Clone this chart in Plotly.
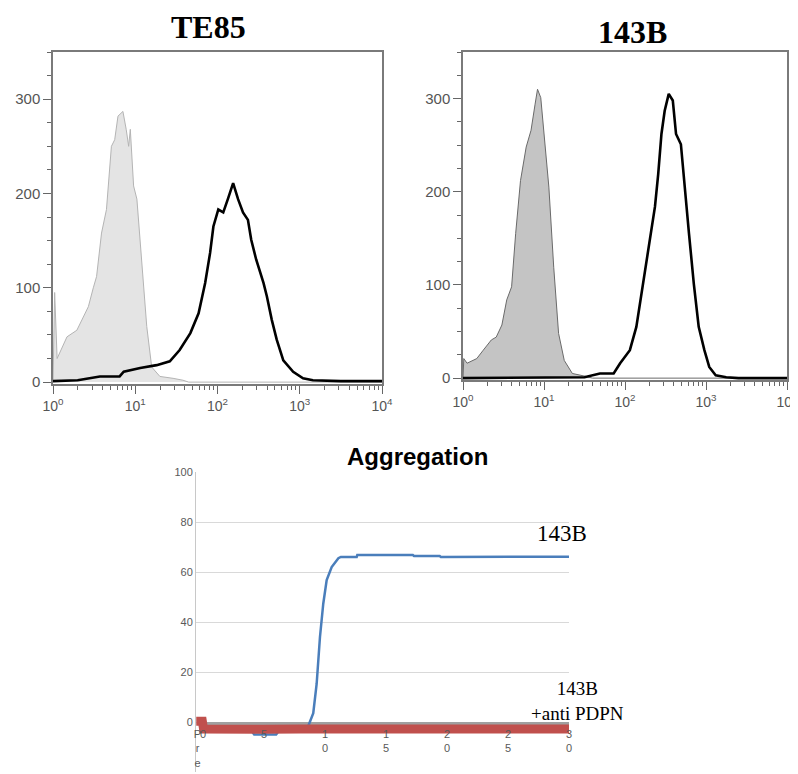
import plotly.graph_objects as go

# the page body adds an 8px offset; the figure is sized to reach the window edges
OFF = 8
W, H = 790, 766

# ---------------- data ----------------
# TE85 histogram (x as log10 fluorescence intensity, y counts)
te85_iso_log = [0.0, 0.02, 0.05, 0.17, 0.29, 0.37, 0.43, 0.49, 0.53, 0.59, 0.65, 0.71, 0.75,
                0.79, 0.85, 0.89, 0.92, 0.94, 0.98, 1.02, 1.08, 1.14, 1.20, 1.30, 1.46, 1.58, 1.65, 4.0]
te85_iso_cnt = [0, 95, 25, 48, 55, 69, 80, 100, 112, 158, 183, 250, 257,
                282, 287, 268, 250, 268, 208, 194, 123, 59, 16, 6, 4, 2, 0, 0]
te85_ab_log = [0.0, 0.30, 0.57, 0.81, 0.86, 1.06, 1.26, 1.42, 1.54, 1.67, 1.77, 1.85, 1.91, 1.95,
               2.01, 2.07, 2.13, 2.19, 2.25, 2.31, 2.37, 2.41, 2.47, 2.56, 2.60, 2.66, 2.72, 2.80,
               2.92, 3.04, 3.16, 3.5, 4.0]
te85_ab_cnt = [1, 2, 6, 6, 11, 15, 18, 22, 34, 52, 73, 105, 137, 165,
               183, 180, 195, 211, 194, 180, 172, 151, 130, 105, 91, 66, 45, 23,
               11, 4, 2, 1, 1]

# 143B histogram
b143_iso_log = [0.0, 0.01, 0.05, 0.17, 0.25, 0.35, 0.41, 0.48, 0.54, 0.60, 0.65, 0.71, 0.78, 0.84,
                0.89, 0.92, 0.96, 1.00, 1.06, 1.12, 1.18, 1.25, 1.35, 1.51, 1.6, 4.0]
b143_iso_cnt = [0, 21, 16, 21, 30, 41, 44, 57, 84, 98, 155, 212, 248, 266,
                294, 310, 301, 262, 205, 119, 48, 19, 5, 2, 0, 0]
b143_ab_log = [0.0, 1.5, 1.69, 1.86, 1.94, 2.06, 2.14, 2.22, 2.31, 2.37, 2.41, 2.45, 2.49, 2.54,
               2.59, 2.63, 2.69, 2.73, 2.79, 2.85, 2.91, 2.98, 3.04, 3.12, 3.25, 3.4, 4.0]
b143_ab_cnt = [0, 1, 5, 5, 16, 30, 55, 101, 148, 184, 219, 262, 287, 305,
               298, 262, 251, 209, 155, 101, 55, 30, 12, 3, 1, 0, 0]

# Aggregation curves (time in min, aggregation %)
agg_ticks = [-0.45, 0, 5, 10, 15, 20, 25, 30]
agg_ticktext = ["P<br>r<br>e", "0", "5", "1<br>0", "1<br>5", "2<br>0", "2<br>5", "3<br>0"]
blue_t = [0, 1, 2, 3, 3.9, 4.2, 5, 6, 6.3, 7, 8, 8.6, 9.04, 9.32, 9.59, 9.86, 10.14, 10.55,
          11.1, 11.3, 12.6, 12.65, 17.2, 17.3, 19.4, 19.5, 30]
blue_v = [-3, -3, -3, -3, -3, -5, -5, -5, -3, -3, -3, -2, 3.5, 15.3, 34, 47.3, 56.8, 62,
          65.5, 66, 66, 66.8, 66.8, 66.4, 66.4, 66, 66.1]
gray_t = [0.2, 30]
gray_v = [-1, -1]
red_t = [-0.55, -0.05, 0.05, 1.5, 2.0, 3, 4, 5, 8, 12, 16, 20, 25, 30]
red_v = [0.3, 0.3, -2.8, -2.6, -2.8, -2.7, -2.8, -2.9, -2.8, -2.8, -2.8, -2.8, -2.7, -2.8]

# ---------------- figure ----------------
def px_x(p):
    return (p - OFF) / W

def px_y(p):
    return 1 - (p - OFF) / H

fig = go.Figure()

def tolin(a):
    return [10 ** v for v in a]

# panel 1
fig.add_trace(go.Scatter(x=tolin(te85_iso_log), y=te85_iso_cnt, mode="lines", fill="tozeroy",
                         fillcolor="#e4e4e4", line=dict(color="#b4b4b4", width=1),
                         xaxis="x", yaxis="y", showlegend=False))
fig.add_trace(go.Scatter(x=tolin(te85_ab_log), y=te85_ab_cnt, mode="lines",
                         line=dict(color="#000000", width=2.6), xaxis="x", yaxis="y", showlegend=False))
# panel 2
fig.add_trace(go.Scatter(x=tolin(b143_iso_log), y=b143_iso_cnt, mode="lines", fill="tozeroy",
                         fillcolor="#c4c4c4", line=dict(color="#6a6a6a", width=1),
                         xaxis="x2", yaxis="y2", showlegend=False))
fig.add_trace(go.Scatter(x=tolin(b143_ab_log), y=b143_ab_cnt, mode="lines",
                         line=dict(color="#000000", width=2.6), xaxis="x2", yaxis="y2", showlegend=False))
# panel 3
fig.add_trace(go.Scatter(x=gray_t, y=gray_v, mode="lines", line=dict(color="#a0a0a0", width=5),
                         xaxis="x3", yaxis="y3", showlegend=False))
fig.add_trace(go.Scatter(x=blue_t, y=blue_v, mode="lines", line=dict(color="#4a7ebb", width=2.5),
                         xaxis="x3", yaxis="y3", showlegend=False))
fig.add_trace(go.Scatter(x=red_t, y=red_v, mode="lines", line=dict(color="#c0504d", width=9),
                         xaxis="x3", yaxis="y3", showlegend=False))

minor_log = [m * 10 ** d for d in range(4) for m in range(2, 10)]
dec_vals = [1, 10, 100, 1000, 10000]
dec_text = ["10<sup>0</sup>", "10<sup>1</sup>", "10<sup>2</sup>", "10<sup>3</sup>", "10<sup>4</sup>"]
tick_font = dict(family="Liberation Sans, Arial", size=15, color="#555555")

def log_xaxis(domain, anchor):
    return dict(domain=domain, anchor=anchor, type="log", range=[0, 4], automargin=False,
                tickmode="array", tickvals=dec_vals, ticktext=dec_text, ticklabeloverflow="allow",
                ticks="outside", ticklen=8, tickcolor="#666666", tickwidth=1.3,
                showline=True, mirror=True, linecolor="#7a7a7a", linewidth=1.5,
                showgrid=False, zeroline=False, tickfont=dict(family="Liberation Sans, Arial", size=14, color="#555555"),
                minor=dict(tickmode="array", tickvals=minor_log, ticks="outside", ticklen=4,
                           tickcolor="#666666", showgrid=False))

def cnt_yaxis(domain, anchor, rng):
    return dict(domain=domain, anchor=anchor, range=rng, automargin=False,
                tickmode="array", tickvals=[0, 100, 200, 300],
                ticks="outside", ticklen=8, tickcolor="#666666", tickwidth=1.3,
                showline=True, mirror=True, linecolor="#7a7a7a", linewidth=1.5,
                showgrid=False, zeroline=False, tickfont=tick_font,
                minor=dict(dtick=25, tick0=0, ticks="outside", ticklen=4,
                           tickcolor="#666666", showgrid=False))

fig.update_layout(
    width=W, height=H,
    margin=dict(l=0, r=0, t=0, b=0, autoexpand=False),
    paper_bgcolor="white", plot_bgcolor="white",
    xaxis=log_xaxis([px_x(53), px_x(382)], "y"),
    yaxis=cnt_yaxis([px_y(384), px_y(52)], "x", [-2, 350]),
    xaxis2=log_xaxis([px_x(463), px_x(787)], "y2"),
    yaxis2=cnt_yaxis([px_y(380), px_y(52)], "x2", [-2, 350]),
    xaxis3=dict(domain=[px_x(196), px_x(569)], anchor="free", position=px_y(722), automargin=False,
                range=[-0.57, 30], tickmode="array", tickvals=agg_ticks, ticktext=agg_ticktext,
                tickangle=0, ticks="", showline=False, showgrid=False, zeroline=False,
                ticklabelstandoff=4,
                tickfont=dict(family="Liberation Sans, Arial", size=11, color="#595959")),
    yaxis3=dict(domain=[px_y(772), px_y(472)], anchor="x3", range=[-20, 100], automargin=False,
                tickmode="array", tickvals=[-20, 0, 20, 40, 60, 80, 100],
                ticks="", showline=True, linecolor="#c8c8c8", linewidth=1,
                showgrid=True, gridcolor="#d9d9d9", gridwidth=1, zeroline=False,
                tickfont=dict(family="Liberation Sans, Arial", size=11, color="#595959")),
    annotations=[
        dict(text="<b>TE85</b>", x=px_x(208), y=px_y(27), xref="paper", yref="paper",
             showarrow=False, xanchor="center", yanchor="middle",
             font=dict(family="Liberation Serif, Times New Roman", size=32, color="#000000")),
        dict(text="<b>143B</b>", x=px_x(632), y=px_y(32), xref="paper", yref="paper",
             showarrow=False, xanchor="center", yanchor="middle",
             font=dict(family="Liberation Serif, Times New Roman", size=32, color="#000000")),
        dict(text="<b>Aggregation</b>", x=px_x(417), y=px_y(456), xref="paper", yref="paper",
             showarrow=False, xanchor="center", yanchor="middle",
             font=dict(family="Liberation Sans, Arial", size=24, color="#000000")),
        dict(text="143B", x=px_x(562), y=px_y(533), xref="paper", yref="paper",
             showarrow=False, xanchor="center", yanchor="middle",
             font=dict(family="Liberation Serif, Times New Roman", size=23, color="#000000")),
        dict(text="143B<br>+anti PDPN", x=px_x(577), y=px_y(701), xref="paper", yref="paper",
             showarrow=False, xanchor="center", yanchor="middle", align="center",
             font=dict(family="Liberation Serif, Times New Roman", size=19, color="#000000")),
    ],
)

fig.write_html("out.html")
